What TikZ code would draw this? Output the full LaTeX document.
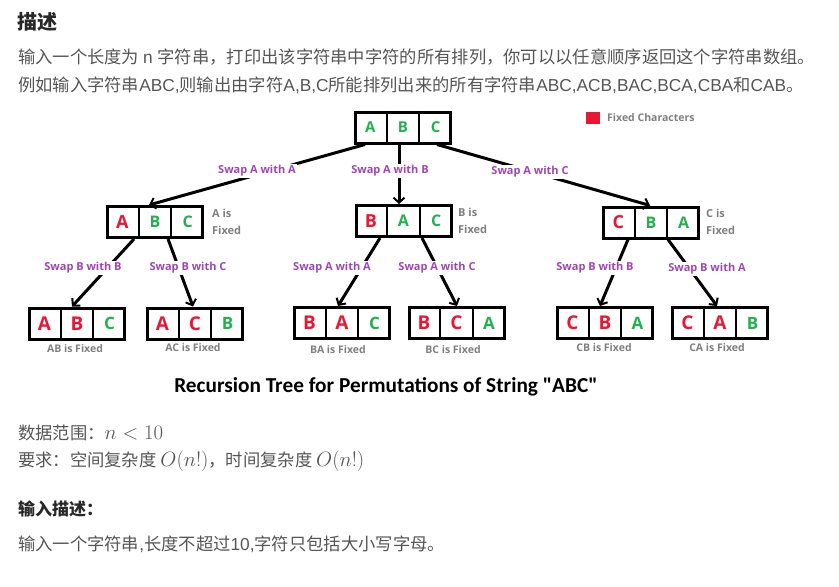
\documentclass[tikz,border=0pt]{standalone}
\usepackage[no-math]{fontspec}
\setmainfont{Liberation Sans}
\newfontfamily\cj{Noto Sans CJK SC}
\newfontfamily\osans{Open Sans}
\newfontfamily\calib{Carlito}
\usetikzlibrary{arrows.meta}
\definecolor{pgreen}{RGB}{34,177,76}
\definecolor{pred}{RGB}{232,24,52}
\definecolor{ppurple}{RGB}{160,70,180}
\definecolor{pgray}{RGB}{127,127,127}
\definecolor{txt}{RGB}{85,85,85}
\definecolor{head}{RGB}{40,40,40}
\def\rsz{18}\def\gsz{16}
\newcommand\R[1]{\textcolor{pred}{\osans\bfseries\fontsize{\rsz}{\rsz}\selectfont #1}}
\newcommand\G[1]{\textcolor{pgreen}{\osans\bfseries\fontsize{\gsz}{\gsz}\selectfont #1}}
\newcommand\bm[1]{{\fontsize{20.5}{22}\selectfont$#1$}}
\newcommand\pbox[6]{%
  \node[pbox] (#1) at (#2,#3) {};
  \draw[line width=2pt] ([xshift=-16.3pt]#1.north) -- ([xshift=-16.3pt]#1.south);
  \draw[line width=2pt] ([xshift=16.3pt]#1.north) -- ([xshift=16.3pt]#1.south);
  \node[letter] (#1-1) at ([xshift=-32.6pt]#1.center) {#4};
  \node[letter] (#1-2) at (#1.center) {#5};
  \node[letter] (#1-3) at ([xshift=32.6pt]#1.center) {#6};
}
\begin{document}
\begin{tikzpicture}[x=1pt,y=-1pt,
  pbox/.style={draw, line width=3pt, minimum width=95pt, minimum height=31pt, inner sep=0pt},
  letter/.style={inner sep=0pt},
  edge/.style={line width=3pt, -{Straight Barb[length=5pt,width=11pt,line width=2pt]}},
  lab/.style={fill=white, text=ppurple, inner sep=1.5pt, font=\osans\bfseries\fontsize{11}{12}\selectfont},
  captxt/.style={text=pgray, inner sep=0pt, font=\osans\bfseries\fontsize{10.5}{12}\selectfont},
  side/.style={text=pgray, inner sep=0pt, anchor=west, align=left, font=\osans\bfseries\fontsize{11}{17}\selectfont},
  tline/.style={anchor=west, inner sep=0pt, text=txt, font=\fontsize{17.3}{20}\selectfont}
]
\useasboundingbox (0,0) rectangle (839,587);

% header text
\node[anchor=west, inner sep=0pt, text=head] (h1) at (17,22) {\cj\bfseries\fontsize{20}{24}\selectfont 描述};
\node[tline] (t1) at (18,57) {\cj 输入一个长度为 \rmfamily n \cj 字符串，打印出该字符串中字符的所有排列，你可以以任意顺序返回这个字符串数组。};
\node[tline] (t2) at (18,85) {{\cj 例如输入字符串}ABC,{\cj 则输出由字符}A,B,C{\cj 所能排列出来的所有字符串}ABC,ACB,BAC,BCA,CBA{\cj 和}CAB{\cj 。}};

% legend
\fill[pred] (586,112) rectangle (600,124);
\node[captxt, anchor=west] (leg) at (607,118) {Fixed Characters};

% boxes
\def\rsz{15}\def\gsz{15}
\pbox{root}{403}{127.5}{\G{A}}{\G{B}}{\G{C}}
\def\rsz{18}\def\gsz{16}
\pbox{la}{155}{222}{\R{A}}{\G{B}}{\G{C}}
\pbox{lb}{403.5}{221}{\R{B}}{\G{A}}{\G{C}}
\pbox{lc}{651}{222.5}{\R{C}}{\G{B}}{\G{A}}
\def\rsz{19}\def\gsz{17}
\pbox{ab}{77}{323.5}{\R{A}}{\R{B}}{\G{C}}
\pbox{ac}{195}{323.5}{\R{A}}{\R{C}}{\G{B}}
\pbox{ba}{342}{323}{\R{B}}{\R{A}}{\G{C}}
\pbox{bc}{456.5}{323}{\R{B}}{\R{C}}{\G{A}}
\pbox{cb}{605}{323}{\R{C}}{\R{B}}{\G{A}}
\pbox{ca}{720}{323}{\R{C}}{\R{A}}{\G{B}}

% edges
\draw[edge] ([xshift=-38pt]root.south) -- ([xshift=-6pt]la.north);
\draw[edge] ([xshift=-4pt]root.south) -- ([xshift=-4.5pt]lb.north);
\draw[edge] ([xshift=34pt]root.south) -- ([xshift=-1pt]lc.north);
\draw[edge] ([xshift=-21pt]la.south) -- ([xshift=-5pt]ab.north);
\draw[edge] ([xshift=13pt]la.south) -- ([xshift=-2pt]ac.north);
\draw[edge] ([xshift=-23.5pt]lb.south) -- ([xshift=-4pt]ba.north);
\draw[edge] ([xshift=18.5pt]lb.south) -- ([xshift=0.5pt]bc.north);
\draw[edge] ([xshift=-23pt]lc.south) -- ([xshift=-5pt]cb.north);
\draw[edge] ([xshift=17pt]lc.south) -- ([xshift=-3pt]ca.north);

% edge labels
\node[lab] (e1) at (257,171) {Swap A with A};
\node[lab] (e2) at (390,171) {Swap A with B};
\node[lab] (e3) at (530,172) {Swap A with C};
\node[lab] (e4) at (83,268) {Swap B with B};
\node[lab] (e5) at (188,268) {Swap B with C};
\node[lab] (e6) at (332,268) {Swap A with A};
\node[lab] (e7) at (437,268) {Swap A with C};
\node[lab] (e8) at (595,268) {Swap B with B};
\node[lab] (e9) at (707,269) {Swap B with A};

% side notes
\node[side] (sa) at (212,221.5) {A is\\Fixed};
\node[side] (sb) at (458,221) {B is\\Fixed};
\node[side] (sc) at (706,222) {C is\\Fixed};

% captions
\node[captxt] (c1) at (75,349) {AB is Fixed};
\node[captxt] (c2) at (193,348) {AC is Fixed};
\node[captxt] (c3) at (338,350) {BA is Fixed};
\node[captxt] (c4) at (453,350) {BC is Fixed};
\node[captxt] (c5) at (604,348) {CB is Fixed};
\node[captxt] (c6) at (717,348) {CA is Fixed};

% title
\node[inner sep=0pt, font=\calib\bfseries\fontsize{21.3}{23}\selectfont] (title) at (386,387) {Recursion Tree for Permutations of String "ABC"};

% bottom text
\node[tline] (b1) at (18,433) {{\cj 数据范围：}\bm{n<10}};
\node[tline] (b2) at (18,461) {{\cj 要求：空间复杂度 }\bm{O(n!)}{\cj ，时间复杂度 }\bm{O(n!)}};
\node[anchor=west, inner sep=0pt, text=head] (b3) at (18,509) {\cj\bfseries\fontsize{17}{20}\selectfont 输入描述：};
\node[tline] (b4) at (18,544) {{\cj 输入一个字符串}{,}{\cj 长度不超过}10,{\cj 字符只包括大小写字母。}};
\end{tikzpicture}
\end{document}
